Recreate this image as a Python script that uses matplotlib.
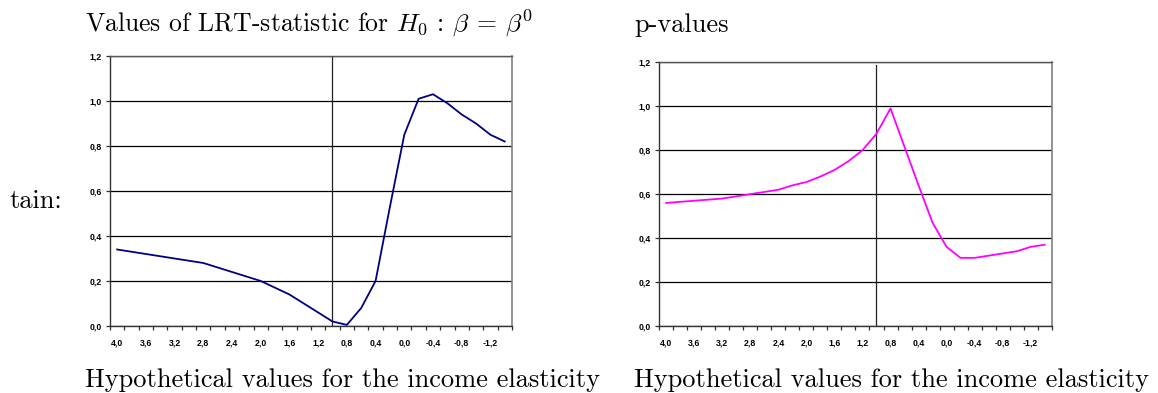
import numpy as np
import matplotlib
matplotlib.use("Agg")
import matplotlib.pyplot as plt
from matplotlib.ticker import FixedLocator, FuncFormatter

plt.rcParams['mathtext.fontset'] = 'cm'
plt.rcParams['axes.unicode_minus'] = False

# hypothetical values of the income elasticity (categories, 4.0 down to -1.4)
beta0 = [4.0, 3.8, 3.6, 3.4, 3.2, 3.0, 2.8, 2.6, 2.4, 2.2, 2.0, 1.8, 1.6, 1.4,
         1.2, 1.0, 0.8, 0.6, 0.4, 0.2, 0.0, -0.2, -0.4, -0.6, -0.8, -1.0, -1.2, -1.4]

lrt = [0.34, 0.33, 0.32, 0.31, 0.30, 0.29, 0.28, 0.26, 0.24, 0.22, 0.20, 0.17, 0.14, 0.10,
       0.06, 0.02, 0.005, 0.08, 0.20, 0.53, 0.85, 1.01, 1.03, 0.99, 0.94, 0.90, 0.85, 0.82]

pvals = [0.56, 0.565, 0.57, 0.575, 0.58, 0.59, 0.60, 0.61, 0.62, 0.64, 0.655, 0.68, 0.71, 0.75,
         0.80, 0.875, 0.99, 0.815, 0.64, 0.47, 0.36, 0.31, 0.31, 0.32, 0.33, 0.34, 0.36, 0.37]

beta_hat = 1.01
label_ticks = [4.0, 3.6, 3.2, 2.8, 2.4, 2.0, 1.6, 1.2, 0.8, 0.4, 0.0, -0.4, -0.8, -1.2]
y_ticks = [0.0, 0.2, 0.4, 0.6, 0.8, 1.0, 1.2]


def comma(v, pos=None):
    s = f'{v:.1f}'.replace('.', ',')
    return '0,0' if s == '-0,0' else s


def excel_axes(ax, y, color, vline_span):
    ax.plot(beta0, y, color=color, lw=1.3, zorder=3)
    ax.set_xlim(4.1, -1.5)
    ax.set_ylim(0, 1.2)
    ax.xaxis.set_major_locator(FixedLocator(label_ticks))
    ax.xaxis.set_minor_locator(FixedLocator(np.arange(-1.5, 4.11, 0.2)))
    ax.xaxis.set_major_formatter(FuncFormatter(comma))
    ax.yaxis.set_major_locator(FixedLocator(y_ticks))
    ax.yaxis.set_major_formatter(FuncFormatter(comma))
    ax.tick_params(axis='x', which='major', length=0, pad=9)
    ax.tick_params(axis='x', which='minor', length=3, width=0.9, color='#333333', direction='out')
    ax.tick_params(axis='y', length=3, width=0.9, color='#333333', direction='out', pad=3)
    for lab in ax.get_xticklabels() + ax.get_yticklabels():
        lab.set_fontfamily('Liberation Sans')
        lab.set_fontweight('bold')
        lab.set_fontsize(6.3)
    ax.grid(axis='y', color='black', lw=0.9)
    ax.set_axisbelow(True)
    ax.axvline(beta_hat, ymin=vline_span[0], ymax=vline_span[1], color='#222222', lw=0.9, zorder=2)
    for side in ['left', 'bottom']:
        ax.spines[side].set_color('#333333')
        ax.spines[side].set_linewidth(1.0)
    ax.spines['right'].set_color('#808080')
    ax.spines['right'].set_linewidth(1.2)
    ax.spines['top'].set_color('#555555')
    ax.spines['top'].set_linewidth(1.0)


fig = plt.figure(figsize=(11.58, 3.93), dpi=100)
ax1 = fig.add_axes([0.0950, 0.1705, 0.3471, 0.6870])
ax2 = fig.add_axes([0.5693, 0.1705, 0.3389, 0.6710])

excel_axes(ax1, lrt, '#000080', (0, 1))
excel_axes(ax2, pvals, '#FF00FF', (0.005, 0.99))

serif = dict(family='cmr10', fontsize=19, color='black', va='baseline')
fig.text(85 / 1158, 1 - 32 / 393, r'Values of LRT-statistic for $H_0\,:\,\beta\:=\:\beta^0$',
         **{**serif, 'fontsize': 18.5})
fig.text(634 / 1158, 1 - 32 / 393, 'p-values', **serif)
fig.text(85 / 1158, 1 - 387 / 393, 'Hypothetical values for the income elasticity', **serif)
fig.text(634 / 1158, 1 - 387 / 393, 'Hypothetical values for the income elasticity', **serif)
fig.text(9 / 1158, 1 - 208 / 393, 'tain:', **serif)

fig.savefig('out.png', dpi=100)
